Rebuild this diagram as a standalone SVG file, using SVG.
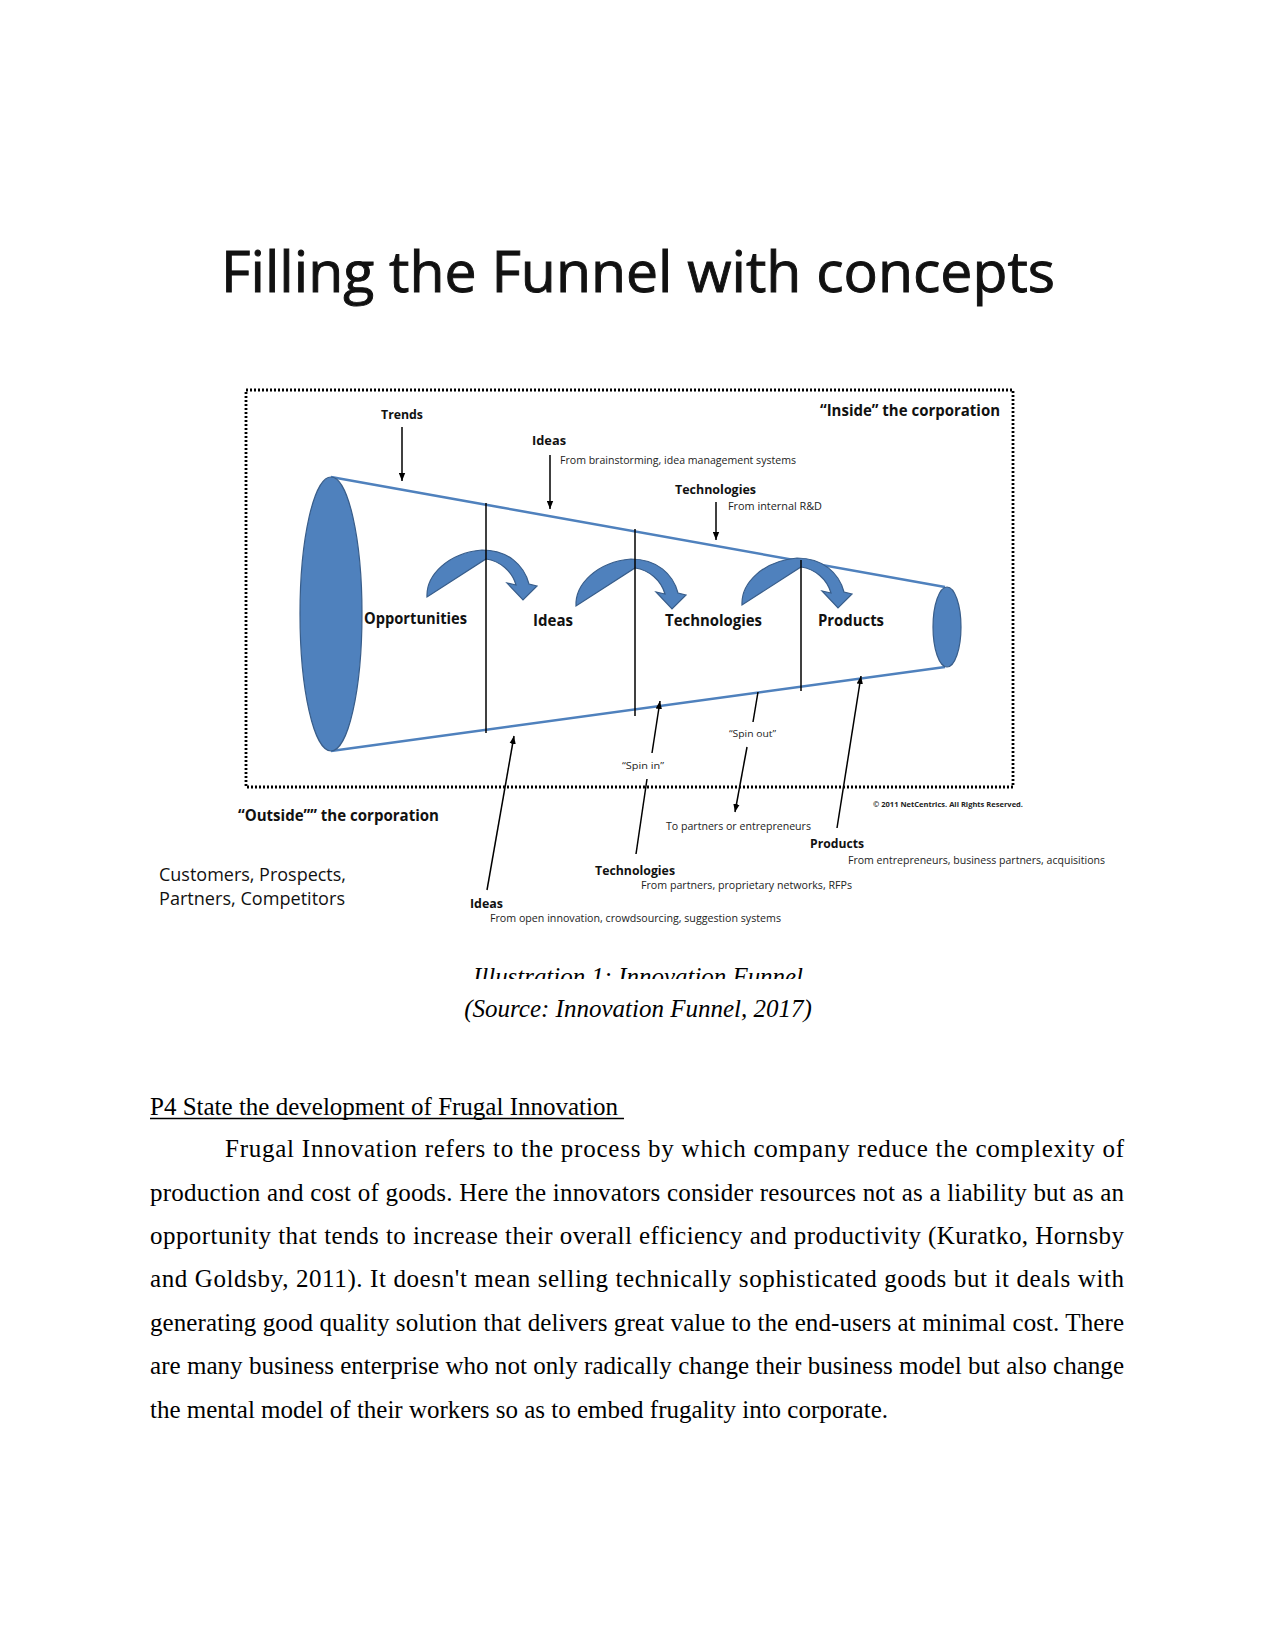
<svg xmlns="http://www.w3.org/2000/svg" width="1275" height="1650" viewBox="0 0 1275 1650">
<style>
.t{font-family:"Open Sans","Liberation Sans",sans-serif;fill:#111}
.b{font-weight:bold}
.s{font-family:"Open Sans","Liberation Sans",sans-serif;fill:#222}
.serif{font-family:"Liberation Serif","Times New Roman",serif;font-size:25px;fill:#000}
.it{font-style:italic}
.ln{stroke:#000;stroke-width:1.5;fill:none}
.fun{stroke:#4F81BD;stroke-width:2.5;fill:none}
.blue{fill:#4F81BD;stroke:#385D8A;stroke-width:1.2}
</style>
<defs>
<marker id="ah" viewBox="0 0 10 8" refX="10" refY="4" markerWidth="8" markerHeight="7" markerUnits="userSpaceOnUse" orient="auto">
<path d="M0,0 L10,4 L0,8 z" fill="#000"/>
</marker>
<path id="carrow" d="M -59,44 C -60,22 -38,0 -4,-3 C 22,-3 38,12 43,31 L 51,33 L 37,47 L 21,30 L 30,32 C 26,18 14,8 0,6 L -59,44 Z"/>
<clipPath id="capclip"><rect x="0" y="900" width="1275" height="79"/></clipPath>
</defs>
<rect width="1275" height="1650" fill="#fff"/>

<g id="title">
<text class="t" x="221" y="292" font-size="56" stroke="#111" stroke-width="0.9" textLength="834" lengthAdjust="spacingAndGlyphs">Filling the Funnel with concepts</text>
</g>

<g id="boundary">
<rect x="246" y="390" width="767" height="397" fill="none" stroke="#000" stroke-width="2.8" stroke-dasharray="2 2"/>
<text class="t b" x="820" y="416" font-size="16" textLength="180" lengthAdjust="spacingAndGlyphs">“Inside” the corporation</text>
<text class="t b" x="238" y="821" font-size="16" textLength="201" lengthAdjust="spacingAndGlyphs">“Outside”” the corporation</text>
<text class="s b" x="873" y="807" font-size="7.5" textLength="150" lengthAdjust="spacingAndGlyphs">© 2011 NetCentrics.  All Rights Reserved.</text>
</g>

<g id="funnel">
<line class="fun" x1="331" y1="477" x2="945" y2="587"/>
<line class="fun" x1="331" y1="751" x2="945" y2="667"/>
<ellipse class="blue" cx="331" cy="614" rx="31" ry="137"/>
<ellipse class="blue" cx="947" cy="627" rx="14" ry="40"/>
</g>

<g id="stage-arrows">
<use href="#carrow" class="blue" transform="translate(486,553)"/>
<use href="#carrow" class="blue" transform="translate(635,562)"/>
<use href="#carrow" class="blue" transform="translate(801,561)"/>
</g>

<g id="gates">
<line class="ln" x1="486" y1="503" x2="486" y2="733"/>
<line class="ln" x1="635" y1="529" x2="635" y2="716"/>
<line class="ln" x1="801" y1="560" x2="801" y2="691"/>
</g>

<g id="stages">
<text class="t b" x="364" y="624" font-size="16" textLength="103" lengthAdjust="spacingAndGlyphs">Opportunities</text>
<text class="t b" x="533" y="626" font-size="16" textLength="40" lengthAdjust="spacingAndGlyphs">Ideas</text>
<text class="t b" x="665" y="626" font-size="16" textLength="97" lengthAdjust="spacingAndGlyphs">Technologies</text>
<text class="t b" x="818" y="626" font-size="16" textLength="66" lengthAdjust="spacingAndGlyphs">Products</text>
</g>

<g id="inside-inputs">
<text class="t b" x="381" y="419" font-size="13" textLength="42" lengthAdjust="spacingAndGlyphs">Trends</text>
<text class="t b" x="532" y="445" font-size="13" textLength="34" lengthAdjust="spacingAndGlyphs">Ideas</text>
<text class="s" x="560" y="464" font-size="10" textLength="236" lengthAdjust="spacingAndGlyphs">From brainstorming, idea management systems</text>
<text class="t b" x="675" y="494" font-size="13" textLength="81" lengthAdjust="spacingAndGlyphs">Technologies</text>
<text class="s" x="728" y="510" font-size="10" textLength="94" lengthAdjust="spacingAndGlyphs">From internal R&amp;D</text>
</g>

<g id="outside-inputs">
<text class="t" x="159" y="881" font-size="18" textLength="187" lengthAdjust="spacingAndGlyphs">Customers, Prospects,</text>
<text class="t" x="159" y="905" font-size="18" textLength="186" lengthAdjust="spacingAndGlyphs">Partners, Competitors</text>
<text class="t b" x="470" y="908" font-size="12.5" textLength="33" lengthAdjust="spacingAndGlyphs">Ideas</text>
<text class="s" x="490" y="922" font-size="10" textLength="291" lengthAdjust="spacingAndGlyphs">From open innovation, crowdsourcing, suggestion systems</text>
<text class="t b" x="595" y="875" font-size="12.5" textLength="80" lengthAdjust="spacingAndGlyphs">Technologies</text>
<text class="s" x="641" y="889" font-size="10" textLength="211" lengthAdjust="spacingAndGlyphs">From partners, proprietary networks, RFPs</text>
<text class="s" x="622" y="769" font-size="9" textLength="42" lengthAdjust="spacingAndGlyphs">“Spin in”</text>
<text class="s" x="729" y="737" font-size="9" textLength="47" lengthAdjust="spacingAndGlyphs">“Spin out”</text>
<text class="s" x="666" y="830" font-size="10" textLength="145" lengthAdjust="spacingAndGlyphs">To partners or entrepreneurs</text>
<text class="t b" x="810" y="848" font-size="12.5" textLength="54" lengthAdjust="spacingAndGlyphs">Products</text>
<text class="s" x="848" y="864" font-size="10" textLength="257" lengthAdjust="spacingAndGlyphs">From entrepreneurs, business partners, acquisitions</text>
</g>

<g id="connectors">
<line class="ln" x1="402" y1="427" x2="402" y2="481" marker-end="url(#ah)"/>
<line class="ln" x1="550" y1="455" x2="550" y2="509" marker-end="url(#ah)"/>
<line class="ln" x1="716" y1="502" x2="716" y2="540" marker-end="url(#ah)"/>
<line class="ln" x1="487" y1="890" x2="514" y2="736" marker-end="url(#ah)"/>
<line class="ln" x1="636" y1="854" x2="647" y2="779"/>
<line class="ln" x1="652" y1="753" x2="660" y2="701" marker-end="url(#ah)"/>
<line class="ln" x1="758" y1="692" x2="753" y2="722"/>
<line class="ln" x1="747" y1="747" x2="735" y2="812" marker-end="url(#ah)"/>
<line class="ln" x1="837" y1="828" x2="861" y2="676" marker-end="url(#ah)"/>
</g>

<g id="caption">
<text class="serif it" x="638" y="985" text-anchor="middle" clip-path="url(#capclip)" textLength="330" lengthAdjust="spacingAndGlyphs">Illustration 1: Innovation Funnel</text>
<text class="serif it" x="638" y="1017" text-anchor="middle">(Source: Innovation Funnel, 2017)</text>
</g>

<g id="body">
<text class="serif" x="150" y="1115">P4 State the development of Frugal Innovation </text>
<line x1="150" y1="1118.5" x2="624" y2="1118.5" stroke="#000" stroke-width="1.3"/>
<text class="serif" x="225" y="1157" textLength="899" lengthAdjust="spacing">Frugal Innovation refers to the process by which company reduce the complexity of</text>
<text class="serif" x="150" y="1200.5" textLength="974" lengthAdjust="spacing">production and cost of goods. Here the innovators consider resources not as a liability but as an</text>
<text class="serif" x="150" y="1244" textLength="974" lengthAdjust="spacing">opportunity that tends to increase their overall efficiency and productivity (Kuratko, Hornsby</text>
<text class="serif" x="150" y="1287" textLength="974" lengthAdjust="spacing">and Goldsby, 2011). It doesn't mean selling technically sophisticated goods but it deals with</text>
<text class="serif" x="150" y="1330.5" textLength="974" lengthAdjust="spacing">generating good quality solution that delivers great value to the end-users at minimal cost. There</text>
<text class="serif" x="150" y="1374" textLength="974" lengthAdjust="spacing">are many business enterprise who not only radically change their business model but also change</text>
<text class="serif" x="150" y="1417.5">the mental model of their workers so as to embed frugality into corporate.</text>
</g>
</svg>
